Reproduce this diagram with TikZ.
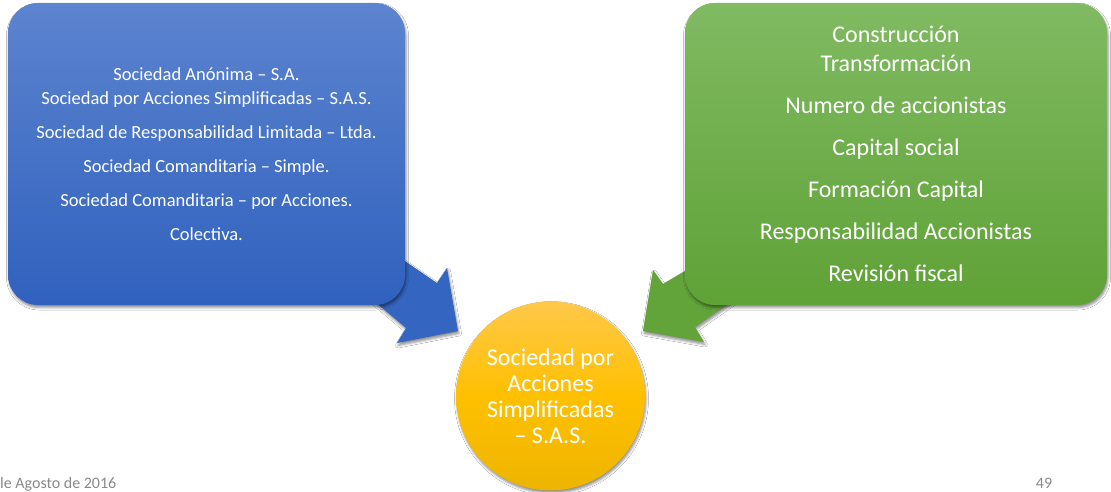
\documentclass[tikz,border=0pt]{standalone}
\usepackage{fontspec}
\setmainfont{Carlito}
\usetikzlibrary{shadows.blur}
\definecolor{blueTop}{HTML}{5C84CF}
\definecolor{blueBot}{HTML}{3061BE}
\definecolor{blueArrow}{HTML}{3465C0}
\definecolor{greenTop}{HTML}{80BA62}
\definecolor{greenBot}{HTML}{5FA236}
\definecolor{greenArrow}{HTML}{62A43A}
\definecolor{goldTop}{HTML}{FFC84A}
\definecolor{goldMid}{HTML}{FFC000}
\definecolor{goldBot}{HTML}{EDB500}
\definecolor{footgray}{HTML}{8A8A8A}
\begin{document}
\begin{tikzpicture}[x=1pt,y=-1pt,
  softshadow/.style={blur shadow={shadow xshift=1pt, shadow yshift=-2.5pt,
      shadow blur radius=2.5pt, shadow opacity=45}},
  panel/.style={rounded corners=30pt, text=white, align=center, inner sep=0pt,
      minimum height=302pt, softshadow},
  pointer/.style={softshadow},
  footer/.style={text=footgray, font=\fontsize{16}{18}\selectfont, inner sep=0pt}
]
\useasboundingbox (0,0) rectangle (1111,492);
\fill[white] (0,0) rectangle (1111,492);

% callout pointers (drawn beneath the panels)
\path[pointer, fill=blueArrow]
  (380,244) -- (437,283) -- (447,268) coordinate (bhead1) -- (458,331) coordinate (btip)
  -- (397,343) coordinate (bhead2) -- (406,328) -- (355,285) -- cycle;
\path[pointer, fill=greenArrow]
  (712,255) -- (663,284) -- (653,270) coordinate (ghead1) -- (643,331) coordinate (gtip)
  -- (704,342) coordinate (ghead2) -- (695,327) -- (745,292) -- cycle;

% left panel: types of companies
\node[panel, minimum width=397pt, top color=blueTop, bottom color=blueBot,
      font=\fontsize{18.5}{24}\selectfont] (types) at (206.5,154)
  {Sociedad Anónima – S.A.\\
   Sociedad por Acciones Simplificadas – S.A.S.\\[10pt]
   Sociedad de Responsabilidad Limitada – Ltda.\\[10pt]
   Sociedad Comanditaria – Simple.\\[10pt]
   Sociedad Comanditaria – por Acciones.\\[10pt]
   Colectiva.};

% right panel: aspects compared
\node[panel, minimum width=422pt, top color=greenTop, bottom color=greenBot,
      font=\fontsize{24}{29}\selectfont] (aspects) at (896,154)
  {Construcción\\
   Transformación\\[13pt]
   Numero de accionistas\\[13pt]
   Capital social\\[13pt]
   Formación Capital\\[13pt]
   Responsabilidad Accionistas\\[13pt]
   Revisión fiscal};

% central circle
\node[circle, minimum size=189pt, inner sep=0pt, text=white, align=center,
      top color=goldTop, bottom color=goldBot, middle color=goldMid, softshadow,
      font=\fontsize{24}{26}\selectfont] (sas) at (550.5,396)
  {Sociedad por\\ Acciones\\ Simplificadas\\ – S.A.S.};

% footer
\node[footer, anchor=base west] (date) at (0,488) {le Agosto de 2016};
\node[footer, anchor=base] (page) at (1044,488) {49};
\end{tikzpicture}
\end{document}
